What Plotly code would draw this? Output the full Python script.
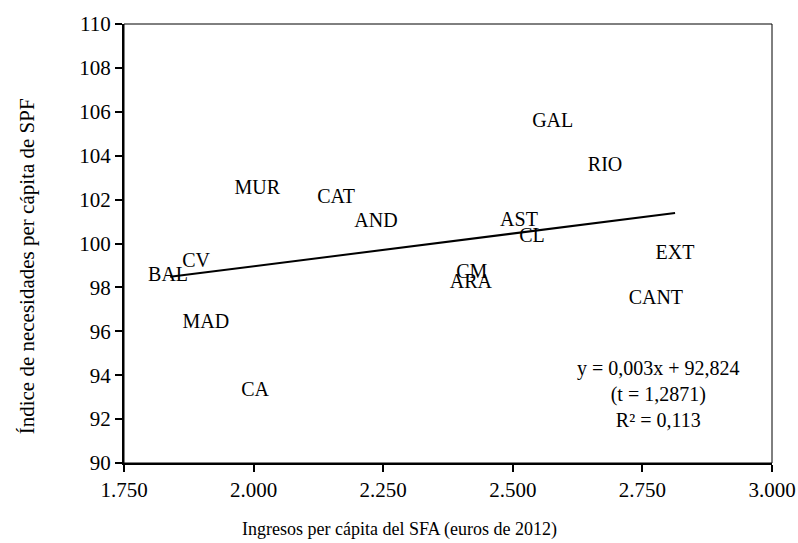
import plotly.graph_objects as go

# Regiones: ingresos per cápita del SFA (euros de 2012) e índice de necesidades de SPF
regiones = ['GAL', 'RIO', 'AST', 'CL', 'EXT', 'CM', 'ARA', 'CANT',
            'MUR', 'CAT', 'AND', 'CV', 'BAL', 'MAD', 'CA']
ingresos = [2577, 2678, 2512, 2537, 2813, 2421, 2419, 2776,
            2007, 2159, 2236, 1889, 1835, 1908, 2003]
indice = [105.55, 103.52, 101.02, 100.28, 99.52, 98.66, 98.18, 97.46,
          102.48, 102.08, 101.0, 99.18, 98.5, 96.38, 93.3]

# Recta de tendencia (extremos)
tendencia_x = [1839, 2813]
tendencia_y = [98.48, 101.39]

ecuacion = 'y = 0,003x + 92,824<br>(t = 1,2871)<br>R² = 0,113'
titulo_x = 'Ingresos per cápita del SFA (euros de 2012)'
titulo_y = 'Índice de necesidades per cápita de SPF'

fuente = 'Liberation Serif, serif'

fig = go.Figure()

fig.add_trace(go.Scatter(
    x=ingresos, y=indice, mode='text', text=regiones,
    textposition='middle center',
    textfont=dict(family=fuente, size=20, color='black'),
    showlegend=False, hoverinfo='x+y+text'))

fig.add_trace(go.Scatter(
    x=tendencia_x, y=tendencia_y, mode='lines',
    line=dict(color='black', width=2), showlegend=False))

fig.add_annotation(
    x=2782, y=93.14, xref='x', yref='y', text=ecuacion, showarrow=False,
    align='center', font=dict(family=fuente, size=20, color='black'))

# Títulos de los ejes centrados en la figura, como en el original
fig.add_annotation(x=0.4244, y=-0.1526, xref='paper', yref='paper',
                   xanchor='center', yanchor='middle',
                   text=titulo_x, showarrow=False,
                   font=dict(family=fuente, size=18, color='black'))
fig.add_annotation(x=-0.1497, y=0.448, xref='paper', yref='paper',
                   xanchor='center', yanchor='middle',
                   text=titulo_y, showarrow=False, textangle=-90,
                   font=dict(family=fuente, size=21, color='black'))

# Marco fino arriba y a la derecha
fig.add_shape(type='rect', xref='paper', yref='paper', x0=0, y0=0, x1=1, y1=1,
              line=dict(color='black', width=1), layer='below')

fig.update_layout(
    width=798, height=543,
    margin=dict(l=124, r=26, t=24, b=80),
    plot_bgcolor='white', paper_bgcolor='white',
    separators=',.',
    font=dict(family=fuente, size=20, color='black'),
    xaxis=dict(
        range=[1750, 3000], dtick=250, tick0=1750, tickformat=',d',
        showgrid=False, zeroline=False, automargin=False,
        ticklabeloverflow='allow',
        showline=True, linecolor='black', linewidth=2,
        ticks='outside', ticklen=7, tickwidth=2, tickcolor='black',
        tickfont=dict(family=fuente, size=21)),
    yaxis=dict(
        range=[90, 110], dtick=2,
        showgrid=False, zeroline=False, automargin=False,
        ticklabeloverflow='allow',
        showline=True, linecolor='black', linewidth=2,
        ticks='outside', ticklen=7, tickwidth=2, tickcolor='black',
        tickfont=dict(family=fuente, size=21)),
)

# Quitar el margen del body para que la figura ocupe toda la ventana
fig.write_html('out.html', config={'displayModeBar': False},
               post_script="document.body.style.margin='0';"
                           "document.body.style.overflow='hidden';")
